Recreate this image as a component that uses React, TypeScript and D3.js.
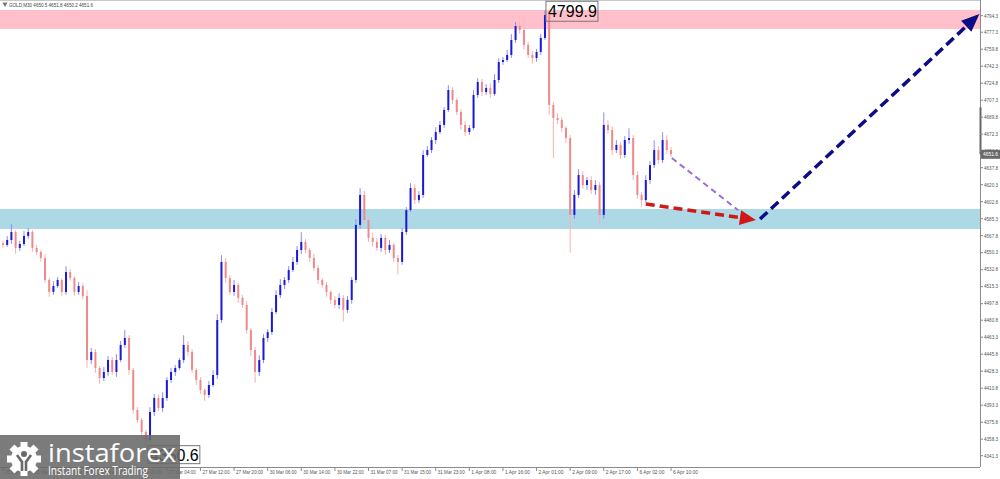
import React from "react";
import * as d3 from "d3";

// ---------- data ----------
const firstOpen = 4560.0;
const closes = [
  4558.3, 4563.4, 4571.6, 4555.2, 4559.3, 4567.5, 4571.6, 4555.2, 4551.0, 4544.9,
  4522.2, 4509.9, 4516.0, 4522.2, 4509.9, 4530.4, 4524.3, 4509.9, 4516.0, 4505.7,
  4439.8, 4448.1, 4431.6, 4421.3, 4427.5, 4439.8, 4427.5, 4439.8, 4455.3, 4462.5,
  4429.6, 4388.4, 4378.1, 4365.8, 4357.5, 4386.3, 4400.7, 4390.4, 4400.7, 4419.2,
  4427.5, 4431.6, 4439.8, 4455.3, 4448.1, 4429.6, 4419.2, 4408.9, 4403.8, 4414.1,
  4424.4, 4481.0, 4540.8, 4524.3, 4509.9, 4517.1, 4503.7, 4496.5, 4470.8, 4450.1,
  4427.5, 4439.8, 4462.5, 4468.6, 4489.2, 4506.7, 4517.1, 4522.2, 4532.5, 4540.8,
  4553.1, 4561.4, 4553.1, 4544.9, 4534.6, 4522.2, 4517.1, 4509.9, 4501.7, 4496.5,
  4503.7, 4491.4, 4501.7, 4522.2, 4578.9, 4609.8, 4584.0, 4565.5, 4561.4, 4555.2,
  4565.5, 4553.1, 4558.3, 4544.9, 4540.8, 4571.6, 4594.2, 4616.9, 4604.5, 4609.7,
  4650.9, 4656.0, 4666.3, 4674.5, 4681.8, 4697.2, 4717.8, 4707.5, 4695.1, 4681.8,
  4674.5, 4678.7, 4712.7, 4726.1, 4715.7, 4719.9, 4713.7, 4728.1, 4746.6, 4748.7,
  4753.9, 4769.3, 4783.7, 4779.6, 4764.2, 4753.9, 4750.8, 4757.0, 4771.4, 4795.0,
  4702.4, 4689.0, 4686.9, 4678.7, 4668.4, 4589.2, 4609.8, 4630.3, 4620.0, 4625.1,
  4614.8, 4620.0, 4589.2, 4681.8, 4676.6, 4656.0, 4661.2, 4650.9, 4666.3, 4668.4,
  4630.3, 4609.8, 4604.5, 4625.1, 4640.5, 4656.0, 4645.7, 4666.3, 4656.0, 4651.6,
];
const wickUp = [
  3, 4, 8, 2, 3, 5, 4, 2, 3, 2,
  4, 2, 5, 3, 2, 6, 3, 2, 4, 3,
  6, 4, 3, 2, 5, 4, 3, 6, 4, 8,
  3, 2, 3, 2, 2, 5, 4, 3, 6, 3,
  4, 3, 2, 10, 4, 3, 2, 3, 2, 4,
  5, 6, 7, 4, 3, 5, 2, 3, 4, 2,
  3, 5, 4, 3, 4, 5, 6, 3, 4, 5,
  4, 10, 3, 2, 4, 3, 2, 3, 2, 4,
  5, 3, 4, 3, 6, 7, 4, 3, 5, 4,
  4, 3, 5, 2, 3, 4, 3, 5, 4, 4,
  5, 4, 3, 5, 4, 3, 5, 3, 2, 3,
  4, 3, 5, 4, 3, 4, 5, 6, 4, 3,
  5, 6, 4, 3, 2, 3, 4, 3, 4, 4.9,
  4, 3, 5, 3, 2, 3, 5, 6, 4, 3,
  4, 5, 3, 13, 5, 4, 5, 3, 4, 10,
  3, 4, 3, 5, 4, 10, 4, 8, 5, 3,
];
const wickDown = [
  3, 2, 4, 6, 3, 2, 3, 4, 3, 4,
  3, 5, 3, 2, 4, 3, 3, 4, 3, 3,
  8, 4, 5, 6, 3, 4, 3, 5, 2, 3,
  5, 4, 3, 4, 6.9, 3, 4, 3, 4, 3,
  3, 4, 2, 3, 4, 3, 5, 4, 6, 3,
  2, 4, 3, 5, 3, 4, 5, 3, 4, 6,
  11, 4, 3, 4, 3, 2, 3, 4, 3, 2,
  3, 4, 3, 4, 3, 4, 3, 5, 4, 3,
  4, 12, 3, 4, 3, 4, 3, 4, 5, 3,
  4, 5, 3, 4, 13, 3, 3, 2, 4, 3,
  3, 2, 3, 4, 2, 3, 2, 4, 3, 5,
  4, 3, 2, 3, 4, 3, 4, 2, 3, 3,
  2, 3, 3, 4, 5, 3, 6, 4, 3, 2,
  10, 41, 4, 4, 5, 39, 4, 3, 4, 5,
  4, 5, 10, 4, 4, 5, 3, 4, 3, 4,
  5, 4, 7, 3, 4, 3, 4, 3, 4, 3,
];

const priceTicks = [
  "4794.3", "4777.3", "4759.8", "4742.3", "4724.8", "4707.3", "4689.8", "4672.3", "4654.8",
  "4637.8", "4620.3", "4602.8", "4585.3", "4567.8", "4550.3", "4532.8", "4515.3", "4497.8",
  "4480.8", "4463.3", "4445.8", "4428.3", "4410.8", "4393.3", "4375.8", "4358.3", "4341.3",
];
const timeLabels = [
  "25 Mar 2026", "25 Mar 20:00", "26 Mar 04:00", "26 Mar 12:00", "26 Mar 20:00", "27 Mar 04:00",
  "27 Mar 12:00", "27 Mar 20:00", "30 Mar 06:00", "30 Mar 14:00", "30 Mar 22:00", "31 Mar 07:00",
  "31 Mar 15:00", "31 Mar 23:00", "1 Apr 08:00", "1 Apr 16:00", "2 Apr 01:00", "2 Apr 09:00",
  "2 Apr 17:00", "6 Apr 02:00", "6 Apr 10:00",
];
const timeLabelIdx = [0, 7, 15, 23, 31, 39, 47, 55, 63, 71, 79, 87, 95, 103, 111, 119, 127, 135, 143, 151, 159];

const resistanceZone = [4780.6, 4800.2];
const supportZone = [4574.7, 4595.3];
const headerText = "GOLD,M30  4650.5 4651.8 4650.2 4651.6";
const lastPrice = 4651.6;
const highLabel = { idx: 129, value: "4799.9" };
const lowLabel = { idx: 34, value: "4350.6" };
// forecast arrows: [index, price] pairs
const purplePath = [[159.2, 4647.8], [175, 4594]];
const redPath = [[153, 4600.4], [179.2, 4584]];
const navyPath = [[180.2, 4585], [232.4, 4796]];

// ---------- layout ----------
const W = 1000, H = 479;
const plotRight = 980, plotBottom = 467;

export default function App() {
  const x = d3.scaleLinear().domain([0, closes.length - 1]).range([3, 671]);
  const y = d3.scaleLinear().domain([4341.3, 4794.3]).range([455.7, 15.7]);

  const candles = closes.map((c, i) => {
    const o = i === 0 ? firstOpen : closes[i - 1];
    const h = Math.max(o, c) + wickUp[i];
    const l = Math.min(o, c) - wickDown[i];
    return { i, o, h, l, c };
  });

  const arrowHead = (p: number[][], len: number, wid: number) => {
    const x1 = x(p[0][0]), y1 = y(p[0][1]);
    const x2 = x(p[1][0]), y2 = y(p[1][1]);
    const dx = x2 - x1, dy = y2 - y1;
    const d = Math.hypot(dx, dy);
    const ux = dx / d, uy = dy / d;
    const bx = x2 - ux * len, by = y2 - uy * len;
    const nx = -uy, ny = ux;
    return {
      line: [x1, y1, bx + ux * 2, by + uy * 2],
      pts: `${x2},${y2} ${bx + nx * wid / 2},${by + ny * wid / 2} ${bx - nx * wid / 2},${by - ny * wid / 2}`,
    };
  };
  const red = arrowHead(redPath, 16, 15);
  const navy = arrowHead(navyPath, 18, 15);

  const font = "'Liberation Sans', Arial, sans-serif";

  return (
    <svg width={W} height={H} style={{ position: "absolute", left: 0, top: 0, background: "#fff" }}>
      <rect x={0} y={0} width={W} height={H} fill="#fff" />
      {/* zones */}
      <rect x={0} y={y(resistanceZone[1])} width={plotRight} height={y(resistanceZone[0]) - y(resistanceZone[1])} fill="#ffc0cb" />
      <rect x={0} y={y(supportZone[1])} width={plotRight} height={y(supportZone[0]) - y(supportZone[1])} fill="#add8e6" />

      {/* candles */}
      {candles.map((d) => {
        const bull = d.c >= d.o;
        const cx = x(d.i);
        const top = y(Math.max(d.o, d.c));
        const bot = y(Math.min(d.o, d.c));
        return (
          <g key={d.i}>
            <line x1={cx} x2={cx} y1={y(d.h)} y2={y(d.l)} stroke={bull ? "#8c8cf2" : "#f4b2b2"} strokeWidth={1} />
            <rect x={cx - 1} y={top} width={2} height={Math.max(1, bot - top)} fill={bull ? "#1a1ad2" : "#ee8a8a"} />
          </g>
        );
      })}

      {/* frame & axes */}
      <line x1={0} x2={plotRight} y1={0.5} y2={0.5} stroke="#c8c8c8" />
      <line x1={plotRight + 0.5} x2={plotRight + 0.5} y1={0} y2={plotBottom} stroke="#8a8a8a" />
      <line x1={0} x2={plotRight} y1={plotBottom + 0.5} y2={plotBottom + 0.5} stroke="#8a8a8a" />
      <line x1={plotRight + 0.5} x2={plotRight + 0.5} y1={y(4700)} y2={y(lastPrice)} stroke="#666" strokeWidth={2} />
      {priceTicks.map((t) => (
        <g key={t}>
          <line x1={plotRight} x2={plotRight + 3} y1={y(+t)} y2={y(+t)} stroke="#8a8a8a" />
          <text x={984} y={y(+t) + 1.8} fontSize={5} fill="#555" fontFamily={font} textLength={14} lengthAdjust="spacingAndGlyphs">{t}</text>
        </g>
      ))}
      <rect x={plotRight + 1} y={y(lastPrice) - 4.5} width={19} height={9} fill="#6a6a6a" />
      <text x={983} y={y(lastPrice) + 1.8} fontSize={5} fill="#fff" fontFamily={font} textLength={15} lengthAdjust="spacingAndGlyphs">{lastPrice.toFixed(1)}</text>

      {timeLabels.map((t, k) => {
        const tx = x(timeLabelIdx[k]);
        return (
          <g key={t}>
            <line x1={tx} x2={tx} y1={plotBottom} y2={plotBottom + 4} stroke="#8a8a8a" />
            <text x={tx + 2} y={plotBottom + 7} fontSize={5} fill="#555" fontFamily={font}
              textLength={t.length > 11 ? 27 : 25} lengthAdjust="spacingAndGlyphs">{t}</text>
          </g>
        );
      })}

      {/* header */}
      <path d="M2.5,2.5 L7.5,2.5 L5,7 Z" fill="#777" />
      <text x={9} y={7} fontSize={5} fill="#444" fontFamily={font} textLength={84} lengthAdjust="spacingAndGlyphs">{headerText}</text>

      {/* forecast arrows */}
      <line x1={x(purplePath[0][0])} y1={y(purplePath[0][1])} x2={x(purplePath[1][0])} y2={y(purplePath[1][1])}
        stroke="#9a6fd8" strokeWidth={2} strokeDasharray="6,4" />
      <line x1={red.line[0]} y1={red.line[1]} x2={red.line[2]} y2={red.line[3]} stroke="#d01818" strokeWidth={3.5} strokeDasharray="9,5" />
      <polygon points={red.pts} fill="#d01818" />
      <line x1={navy.line[0]} y1={navy.line[1]} x2={navy.line[2]} y2={navy.line[3]} stroke="#0c0c86" strokeWidth={3.5} strokeDasharray="10,5" />
      <polygon points={navy.pts} fill="#0c0c86" />

      {/* extreme labels */}
      <rect x={x(highLabel.idx) + 1} y={y(+highLabel.value) - 9} width={52} height={20} fill="none" stroke="#777" />
      <text x={x(highLabel.idx) + 3} y={y(+highLabel.value) + 7} fontSize={16} fill="#000" fontFamily={font}>{highLabel.value}</text>
      <rect x={x(lowLabel.idx) + 2} y={y(+lowLabel.value) - 1} width={52} height={18} fill="#fff" stroke="#777" />
      <text x={x(lowLabel.idx) + 4} y={y(+lowLabel.value) + 14} fontSize={16} fill="#000" fontFamily={font}>{lowLabel.value}</text>

      {/* logo */}
      <g>
        <rect x={0} y={435} width={180} height={44} fill="rgba(105,105,105,0.88)" />
        <g transform="translate(24,459)">
          {d3.range(8).map((k) => (
            <rect key={k} x={-3.5} y={-17} width={7} height={7} fill="#fff" transform={`rotate(${k * 45})`} />
          ))}
          <circle r={13} fill="#fff" />
          <circle r={3} cy={-5} fill="#6a6a6a" />
          <path d="M-7,-4 L-2,3 L-2,12 M7,-4 L2,3 L2,12" stroke="#6a6a6a" strokeWidth={2.6} fill="none" />
        </g>
        <text x={48} y={462} fontSize={26} fill="#fff" fontFamily="'Open Sans', sans-serif" textLength={128} lengthAdjust="spacingAndGlyphs">instaforex</text>
        <text x={48} y={475} fontSize={12} fill="#fff" fontFamily="'Open Sans', sans-serif" textLength={100} lengthAdjust="spacingAndGlyphs">Instant Forex Trading</text>
      </g>
    </svg>
  );
}
